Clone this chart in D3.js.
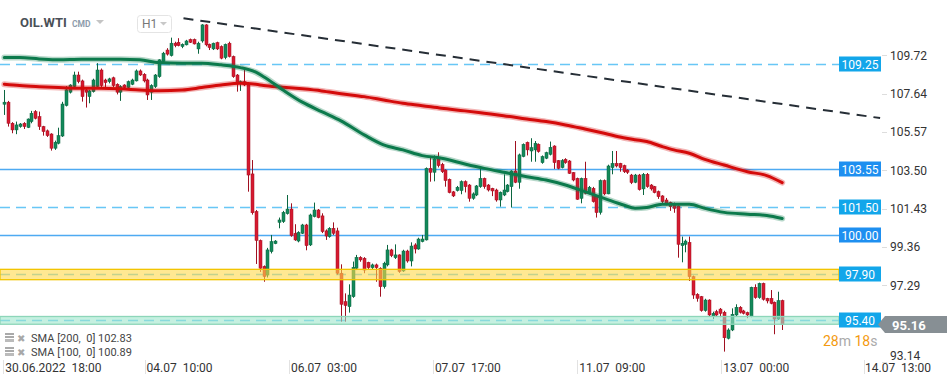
<!DOCTYPE html>
<html>
<head>
<meta charset="utf-8">
<script src="https://cdn.jsdelivr.net/npm/d3@7"></script>
<style>
  body { margin: 0; background: #fff; }
  svg { display: block; font-family: Roboto, "Open Sans", sans-serif; }
</style>
</head>
<body>
<svg width="949" height="385"></svg>
<script>
// hourly candles, [open, high, low, close]
var candles = [
  [107.07,107.84,106.49,107.18],[107.18,107.25,105.86,106.04],[106.04,106.10,105.50,105.68],[105.68,106.13,105.45,105.95],
  [105.86,106.05,105.80,106.00],[106.04,106.10,105.73,105.86],[105.81,106.30,105.78,106.27],[106.13,106.71,106.04,106.58],
  [106.67,106.75,106.25,106.31],[106.40,106.67,105.68,105.86],[105.86,105.90,105.37,105.59],[105.63,105.70,105.30,105.37],
  [105.46,105.50,104.56,104.69],[104.69,105.10,104.60,105.01],[104.96,105.80,104.90,105.37],[105.35,107.20,105.30,107.08],
  [107.00,108.05,106.95,107.85],[107.72,108.15,107.65,108.11],[108.02,108.83,107.95,108.65],[108.65,108.83,108.20,108.29],
  [108.33,108.40,107.21,107.48],[107.84,107.95,106.89,107.72],[107.48,107.85,107.12,107.79],[107.75,108.45,107.70,108.38],
  [108.02,109.29,107.95,108.92],[108.92,109.00,107.95,108.08],[108.38,108.45,108.00,108.24],[108.29,108.50,108.20,108.44],
  [108.50,108.56,108.00,108.08],[108.15,108.20,107.60,107.72],[107.72,108.10,107.25,108.02],[108.11,108.15,107.90,107.97],
  [107.97,108.35,107.90,108.29],[108.15,108.45,108.10,108.38],[108.33,108.95,108.30,108.87],[108.87,108.95,108.60,108.65],
  [108.69,108.75,108.25,108.33],[108.38,108.45,107.30,107.57],[107.72,108.15,107.30,108.08],[108.02,108.70,107.95,108.65],
  [108.56,109.50,108.50,109.47],[109.38,109.90,109.30,109.83],[110.00,110.10,109.70,109.78],[109.70,110.67,109.65,110.37],
  [110.37,110.45,110.15,110.24],[110.42,110.64,110.20,110.24],[110.19,110.36,110.10,110.31],[110.28,110.55,110.25,110.49],
  [110.57,110.62,110.38,110.42],[110.57,110.62,110.30,110.33],[110.06,110.45,109.80,110.37],[110.49,111.40,110.40,111.36],
  [111.36,111.40,110.20,110.28],[110.31,110.35,110.00,110.13],[110.06,110.40,110.00,110.37],[110.40,110.45,110.00,110.06],
  [110.19,110.25,109.50,109.56],[109.59,110.35,109.50,110.31],[110.37,110.45,109.60,109.65],[109.65,109.70,108.50,108.56],
  [108.65,108.70,107.75,108.20],[108.20,108.35,107.79,108.29],[108.29,108.92,108.05,108.11],[108.11,108.15,102.34,103.24],
  [103.30,104.05,101.10,101.20],[101.27,101.35,98.43,99.70],[99.70,99.75,98.00,98.20],[98.30,98.35,97.47,97.75],
  [97.83,99.30,97.70,99.19],[99.10,100.00,99.00,99.64],[99.53,99.72,99.50,99.67],[100.68,100.94,100.36,100.81],
  [100.72,101.30,100.65,101.22],[101.15,102.16,101.10,101.40],[101.40,101.71,99.90,99.96],[100.09,100.58,99.68,99.73],
  [99.67,100.20,99.60,100.14],[100.09,100.60,100.05,100.54],[100.54,100.60,99.17,99.42],[99.46,101.15,99.40,101.08],
  [100.99,101.75,100.95,101.35],[101.35,101.40,100.90,100.94],[101.03,101.17,100.10,100.18],[100.22,100.30,99.73,99.94],
  [99.91,100.42,99.85,100.36],[100.36,100.68,100.00,100.09],[100.22,100.39,97.85,97.93],[97.93,98.41,95.31,96.25],
  [96.39,96.84,95.31,96.18],[96.12,97.33,95.80,96.75],[96.66,98.56,96.60,98.25],[98.20,98.92,98.10,98.79],
  [98.79,98.85,98.55,98.65],[98.74,98.80,97.93,98.10],[98.52,98.55,98.15,98.23],[98.23,98.45,98.15,98.38],
  [98.38,98.45,97.47,98.23],[98.20,98.25,96.66,97.20],[97.20,98.55,97.10,98.47],[98.38,99.46,98.30,99.19],
  [99.19,99.25,98.80,98.88],[98.77,99.49,98.70,98.92],[98.92,98.95,97.95,98.02],[98.05,99.20,98.00,99.13],
  [99.13,99.20,98.50,98.59],[98.59,99.60,98.30,99.40],[99.46,99.55,99.00,99.24],[99.24,99.85,99.20,99.78],
  [99.64,100.00,99.60,99.78],[99.73,103.65,99.70,103.60],[103.60,104.24,102.88,103.39],[103.39,104.30,102.90,104.11],
  [104.11,104.47,103.65,103.75],[103.82,103.90,103.35,103.42],[103.51,103.55,102.61,102.94],[103.01,103.05,102.25,102.29],
  [102.33,102.38,102.05,102.11],[102.40,102.65,102.35,102.58],[102.40,102.95,102.20,102.88],[102.88,102.95,102.30,102.61],
  [102.70,102.75,101.80,101.98],[101.98,102.30,101.90,102.22],[102.16,102.70,102.10,102.65],[102.61,103.60,102.55,103.06],
  [103.06,103.10,102.50,102.61],[102.70,102.75,102.35,102.43],[102.52,102.55,102.10,102.38],[102.43,102.50,101.80,101.89],
  [101.89,102.35,101.53,102.31],[102.16,103.28,102.10,102.43],[102.34,102.75,102.30,102.70],[102.61,103.50,101.48,103.46],
  [103.46,105.08,102.80,102.85],[102.85,104.40,102.50,104.33],[104.24,104.95,104.20,104.90],[105.01,105.05,104.30,104.60],
  [104.54,105.23,103.96,104.72],[104.60,105.08,103.96,104.96],[104.90,104.95,104.45,104.51],[103.91,104.30,103.85,104.24],
  [104.15,104.50,104.10,104.45],[104.36,105.05,104.30,104.74],[104.81,104.85,103.57,103.91],[104.02,104.05,103.55,103.60],
  [103.64,104.10,103.60,104.02],[104.09,104.15,103.85,103.91],[104.00,104.05,103.30,103.33],[103.37,103.40,102.90,102.97],
  [103.06,103.10,101.90,101.93],[101.98,103.10,101.71,103.06],[103.06,103.96,102.20,102.25],[102.25,102.65,102.20,102.58],
  [102.52,102.60,101.75,101.80],[102.11,102.15,100.94,101.21],[101.22,103.00,101.10,102.94],[102.94,103.00,102.15,102.22],
  [102.22,103.80,102.20,103.73],[103.64,104.54,103.28,103.87],[103.87,104.54,103.65,103.73],[103.87,103.90,103.42,103.64],
  [103.75,103.80,103.35,103.42],[103.51,103.55,103.30,103.39],[103.24,103.30,102.75,102.83],[102.85,103.30,102.80,103.24],
  [103.24,103.30,102.40,102.45],[102.49,103.35,102.16,103.28],[103.28,103.35,102.55,102.61],[102.70,102.75,102.40,102.49],
  [102.61,102.65,102.25,102.29],[102.34,102.40,101.95,102.07],[102.11,102.15,101.70,101.80],[101.89,102.00,101.60,101.66],
  [101.76,101.80,101.30,101.53],[101.71,101.75,101.20,101.44],[101.57,101.60,98.77,99.49],[99.42,99.91,98.52,99.55],
  [99.49,99.75,99.06,99.67],[99.60,99.91,97.51,97.74],[97.74,97.80,96.54,96.75],[96.79,96.85,96.39,96.57],
  [96.66,96.70,95.85,95.91],[95.91,96.55,95.85,96.48],[96.48,96.52,95.60,95.67],[95.58,95.85,95.45,95.76],
  [95.85,95.95,95.60,95.67],[95.99,96.05,95.55,95.76],[95.82,95.90,93.69,94.44],[94.41,94.95,94.35,94.86],
  [94.86,96.03,94.80,95.71],[95.67,96.25,95.60,96.09],[96.09,96.15,95.75,95.82],[95.89,95.95,95.70,95.76],
  [95.80,95.85,95.50,95.67],[95.58,97.20,95.55,97.17],[97.17,97.33,96.55,96.61],[96.61,97.42,96.55,97.38],
  [97.38,97.42,96.45,96.52],[96.57,96.60,96.30,96.43],[96.57,97.02,96.25,96.30],[96.36,96.40,94.63,95.45],
  [95.45,96.93,95.40,96.45],[96.45,96.50,94.86,95.16]
];

// moving averages read at these candle indices
var smaIdx = [0,4,9,14,20,25,30,35,40,46,51,56,61,65,67,72,77,82,87,93,98,103,108,113,119,124,129,135,140,145,150,155,160,163,166,170,173,177,181,186,192,197,201];
var sma200 = [108.15,108.08,108.02,107.97,107.93,107.93,107.90,107.84,107.80,107.84,107.97,108.11,108.20,108.15,108.08,107.99,107.90,107.79,107.64,107.48,107.30,107.12,106.99,106.85,106.71,106.58,106.45,106.27,106.13,105.95,105.73,105.50,105.26,105.15,105.05,104.78,104.60,104.42,104.09,103.78,103.42,103.21,102.83];
var sma100 = [109.59,109.59,109.52,109.47,109.50,109.50,109.50,109.47,109.32,109.29,109.29,109.20,109.05,108.80,108.56,107.84,107.18,106.67,106.17,105.41,104.87,104.60,104.29,104.15,103.84,103.60,103.39,103.15,102.97,102.70,102.34,101.98,101.62,101.44,101.48,101.66,101.66,101.66,101.44,101.22,101.12,101.05,100.89];

var levels = [109.25, 103.55, 101.50, 100.00, 97.90, 95.40];
var zones = [[97.58, 98.14], [95.17, 95.59]];
var trendIdx = [46.3, 226.3];
var trendVal = [111.72, 106.32];

var yTicks = [109.72, 107.64, 105.57, 103.50, 101.43, 99.36, 97.29, 95.21, 93.14];
var xTickIdx = [0, 36.5, 73.8, 111, 148.3, 185.5, 222.5];
var xTickLabels = ["30.06.2022  18:00", "04.07  10:00", "06.07  03:00", "07.07  17:00", "11.07  09:00", "13.07  00:00", "14.07  13:00"];
var lastPrice = 95.16;

var svg = d3.select("svg");

var x = d3.scaleLinear().domain([0, 201]).range([4.3, 782.2]);
var y = d3.scaleLinear().domain([95.40, 103.55]).range([320, 169.3]);

var levelRight = 839;
var solidLevels = [103.55, 100.00];

// level lines (under candles)
var lv = svg.append("g");
lv.selectAll("line")
  .data(levels)
  .enter().append("line")
  .attr("x1", 0).attr("x2", levelRight)
  .attr("y1", d => Math.round(y(d)) + 0.5)
  .attr("y2", d => Math.round(y(d)) + 0.5)
  .attr("stroke", d => solidLevels.includes(d) ? "#2f9bf0" : "#4dbdf5")
  .attr("stroke-width", 1.5)
  .attr("stroke-opacity", 0.85)
  .attr("stroke-dasharray", d => solidLevels.includes(d) ? null : "10,6");

// trend line
svg.append("line")
  .attr("x1", x(trendIdx[0])).attr("y1", y(trendVal[0]))
  .attr("x2", x(trendIdx[1])).attr("y2", y(trendVal[1]))
  .attr("stroke", "#262e36")
  .attr("stroke-width", 2)
  .attr("stroke-dasharray", "10,7");

// candles
var up = "#13895a", upDark = "#0b6640";
var down = "#d61a30", downDark = "#a01020";

var cg = svg.append("g");
var cand = cg.selectAll("g")
  .data(candles)
  .enter().append("g");

cand.append("line")
  .attr("x1", (d, i) => Math.round(x(i)) + 0.5)
  .attr("x2", (d, i) => Math.round(x(i)) + 0.5)
  .attr("y1", d => y(d[1]))
  .attr("y2", d => y(d[2]))
  .attr("stroke", d => d[3] >= d[0] ? upDark : downDark)
  .attr("stroke-width", 1);

cand.append("rect")
  .attr("x", (d, i) => Math.round(x(i)) - 1)
  .attr("y", d => y(Math.max(d[0], d[3])))
  .attr("width", 3)
  .attr("height", d => Math.max(1, Math.abs(y(d[0]) - y(d[3]))))
  .attr("fill", d => d[3] >= d[0] ? up : down)
  .attr("stroke", d => d[3] >= d[0] ? upDark : downDark)
  .attr("stroke-width", 0.5);

// moving averages
var smaLine = function(vals) {
  return d3.line()
    .x((d, i) => x(smaIdx[i]))
    .y(d => y(d))
    .curve(d3.curveMonotoneX)(vals);
};

[[sma200, "#d40b0b"], [sma100, "#0c7a4c"]].forEach(function(s) {
  svg.append("path").attr("d", smaLine(s[0]))
    .attr("fill", "none").attr("stroke", s[1])
    .attr("stroke-width", 6).attr("stroke-opacity", 0.3)
    .attr("stroke-linecap", "round");
  svg.append("path").attr("d", smaLine(s[0]))
    .attr("fill", "none").attr("stroke", s[1])
    .attr("stroke-width", 3)
    .attr("stroke-linecap", "round");
});

// zones on top, semi transparent
var zoneFill = ["#ffd84a", "#9fe6cc"];
var zoneEdge = ["#f2c400", "#8dd6b9"];
svg.append("g").selectAll("rect")
  .data(zones)
  .enter().append("rect")
  .attr("x", 0)
  .attr("y", d => y(d[1]))
  .attr("width", levelRight)
  .attr("height", d => y(d[0]) - y(d[1]))
  .attr("fill", (d, i) => zoneFill[i])
  .attr("fill-opacity", 0.6)
  .attr("stroke", (d, i) => zoneEdge[i])
  .attr("stroke-width", 1.3);

// level labels
var lb = svg.append("g").selectAll("g")
  .data(levels)
  .enter().append("g")
  .attr("transform", d => "translate(" + levelRight + "," + Math.round(y(d)) + ")");
lb.append("rect")
  .attr("x", 0).attr("y", -7.5)
  .attr("width", 42).attr("height", 15)
  .attr("fill", d => solidLevels.includes(d) ? "#1e8ff0" : "#12a6ea");
lb.append("text")
  .attr("x", 21).attr("y", 4.5)
  .attr("text-anchor", "middle")
  .attr("fill", "#fff")
  .style("font-size", "12px")
  .text(d => d.toFixed(2));

// right axis (the tick under the price tag stays hidden, as in the app)
var py = Math.round(y(lastPrice));
var shownTicks = yTicks.filter(d => Math.abs(y(d) - py) > 10);
var ra = svg.append("g");
ra.selectAll("line")
  .data(yTicks)
  .enter().append("line")
  .attr("x1", 882).attr("x2", 887)
  .attr("y1", d => Math.round(y(d)) + 0.5)
  .attr("y2", d => Math.round(y(d)) + 0.5)
  .attr("stroke", "#ddd");
ra.selectAll("text")
  .data(shownTicks)
  .enter().append("text")
  .attr("x", 890)
  .attr("y", d => Math.min(y(d), 355) + 4.5)
  .attr("fill", "#333")
  .style("font-size", "12px")
  .text(d => d.toFixed(2));

// last price tag
svg.append("path")
  .attr("d", "M878," + (py + 0.5) + " L885," + (py - 8) + " H947 V" + (py + 9) + " H885 Z")
  .attr("fill", "#878f94");
svg.append("text")
  .attr("x", 892).attr("y", py + 5.5)
  .attr("fill", "#fff")
  .style("font-size", "13px")
  .style("font-weight", "bold")
  .text(lastPrice.toFixed(2));

// countdown
var cd = svg.append("text")
  .attr("x", 823).attr("y", 346)
  .style("font-size", "14px");
[["28", "#f39a10"], ["m ", "#aaa"], ["18", "#f39a10"], ["s", "#aaa"]].forEach(function(p) {
  cd.append("tspan").attr("fill", p[1]).style("white-space", "pre").text(p[0]);
});

// bottom axis
var ba = svg.append("g");
ba.selectAll("line")
  .data(xTickIdx)
  .enter().append("line")
  .attr("x1", d => Math.round(x(d)) - 0.5)
  .attr("x2", d => Math.round(x(d)) - 0.5)
  .attr("y1", 360).attr("y2", 374)
  .attr("stroke", "#e2e2e2");
ba.selectAll("text")
  .data(xTickIdx)
  .enter().append("text")
  .attr("y", 372)
  .attr("fill", "#333")
  .style("font-size", "12px")
  .style("white-space", "pre")
  .text((d, i) => xTickLabels[i])
  .attr("x", function(d) {
    // keep the last label inside the axis strip
    var w = this.getComputedTextLength();
    return Math.min(Math.max(5, x(d) + 1), 931 - w);
  });

// legend
var legendText = ["SMA [200,  0] 102.83", "SMA [100,  0] 100.89"];
var lg = svg.append("g").selectAll("g")
  .data(legendText)
  .enter().append("g")
  .attr("transform", (d, i) => "translate(0," + (338 + i * 14) + ")");
lg.append("rect").attr("x", 5).attr("y", -5).attr("width", 9).attr("height", 2).attr("fill", "#aaa");
lg.append("rect").attr("x", 5).attr("y", -2).attr("width", 9).attr("height", 2).attr("fill", "#aaa");
lg.append("rect").attr("x", 5).attr("y", 1).attr("width", 9).attr("height", 3).attr("fill", "#bbb");
lg.append("text").attr("x", 17).attr("y", 3.5)
  .attr("fill", "#a8a8a8").style("font-size", "10px").text("\u2716");
lg.append("text").attr("x", 31).attr("y", 4)
  .attr("fill", "#444").style("font-size", "11px").style("white-space", "pre")
  .text(d => d);

// header
svg.append("text").attr("x", 20).attr("y", 27)
  .attr("fill", "#4a5057").style("font-size", "13px").style("font-weight", "bold")
  .text("OIL.WTI");
svg.append("text").attr("x", 72).attr("y", 27)
  .attr("fill", "#8d9cab").style("font-size", "8.5px").style("font-weight", "bold")
  .text("CMD");
svg.append("path").attr("d", "M96,20 H104 L100,24 Z").attr("fill", "#c4c4c4");
svg.append("rect").attr("x", 137.5).attr("y", 15.5).attr("width", 34).attr("height", 17).attr("rx", 3)
  .attr("fill", "#fff").attr("stroke", "#e4e4e4");
svg.append("text").attr("x", 142).attr("y", 28)
  .attr("fill", "#777").style("font-size", "12px").text("H1");
svg.append("path").attr("d", "M160,22 H167 L163.5,25.5 Z").attr("fill", "#c8c8c8");
</script>
</body>
</html>
